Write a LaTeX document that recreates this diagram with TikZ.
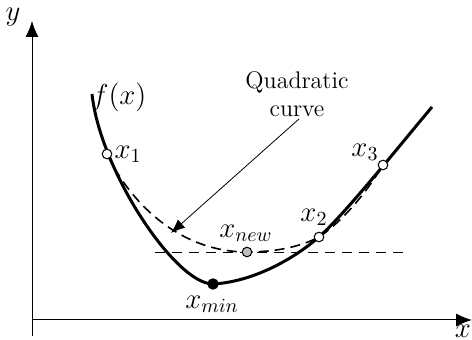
\documentclass[tikz,border=0pt]{standalone}
\usepackage{amsmath}
\usetikzlibrary{arrows.meta,positioning}

\begin{document}
\begin{tikzpicture}[x=0.5pt,y=-0.5pt,
    dot/.style={circle,draw,inner sep=0pt,minimum size=4.8pt,line width=0.5pt},
    opendot/.style={dot,fill=white},
    lab/.style={font=\Large,inner sep=1pt}]
    \useasboundingbox (0,0) rectangle (472,340);
    % Axes
    \coordinate (ybot) at (32,336);
    \coordinate (xleft) at (32,320);
    \coordinate (ytip) at (32,21);
    \coordinate (xtip) at (472,320);
    \draw[-{Latex[length=8pt,width=6.5pt]},line width=0.5pt] (ybot) -- (ytip);
    \draw[-{Latex[length=8pt,width=6.5pt]},line width=0.5pt] (xleft) -- (xtip);
    \node[lab] (ylab) at (13,17) {$y$};
    \node[lab] (xlab) at (463,331) {$x$};
    % Level of the new point
    \draw[dash pattern=on 5pt off 3.5pt,line width=0.4pt] (155,252) -- (404,252);
    % Quadratic curve (dashed)
    \draw[dash pattern=on 5pt off 3pt,line width=0.8pt]
      (107,154) .. controls (132,206) and (182,252) .. (247,252)
      .. controls (275,252) and (300,247) .. (319,237)
      .. controls (342,222) and (367,192) .. (383,165);
    % Function f(x)
    \draw[line width=1.5pt]
      (92,94) .. controls (100,170) and (175,284) .. (213,284)
      .. controls (250,282) and (290,262) .. (319,237)
      .. controls (345,214) and (400,145) .. (432,107);
    \node[lab] (flab) at (119,97) {$f(x)$};
    % Points
    \node[opendot] (x1) at (107,154) {};
    \node[opendot] (x2) at (319,237) {};
    \node[opendot] (x3) at (383,165) {};
    \node[dot,fill=black!25] (xnew) at (247,252) {};
    \node[dot,fill=black,minimum size=5.2pt] (xmin) at (213,284) {};
    \node[lab,right=0pt of x1] (x1lab) {$x_1$};
    \node[lab] (x2lab) at (314,217) {$x_2$};
    \node[lab] (x3lab) at (365,152) {$x_3$};
    \node[lab] (xnewlab) at (246,233) {$x_{new}$};
    \node[lab] (xminlab) at (212,304) {$x_{min}$};
    % Label of the quadratic
    \node[font=\large,align=center,inner sep=1pt] (quad) at (297,94) {Quadratic\\curve};
    \coordinate (qtip) at (171,233);
    \draw[-{Latex[length=7pt,width=5.5pt]},line width=0.4pt] (quad.south) ++(2,0) -- (qtip);
\end{tikzpicture}
\end{document}
